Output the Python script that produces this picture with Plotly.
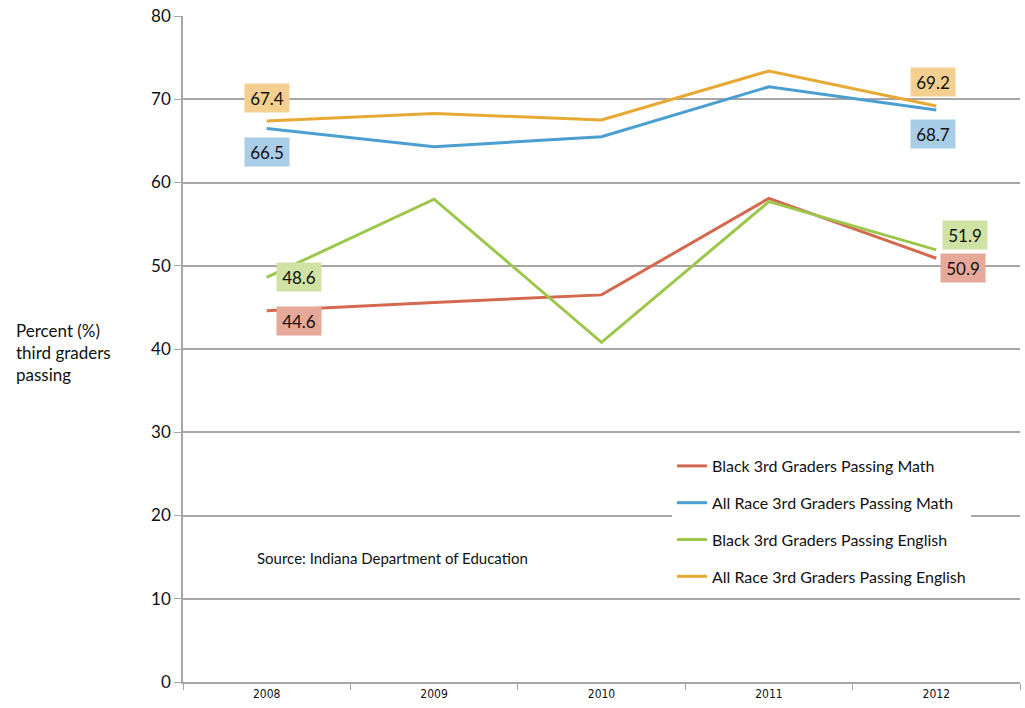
import plotly.graph_objects as go

years = ["2008", "2009", "2010", "2011", "2012"]
black_math = [44.6, 45.6, 46.5, 58.1, 50.9]
all_math = [66.5, 64.3, 65.5, 71.5, 68.7]
black_eng = [48.6, 58.0, 40.8, 57.7, 51.9]
all_eng = [67.4, 68.3, 67.5, 73.4, 69.2]
y_ticks = [0, 10, 20, 30, 40, 50, 60, 70, 80]

series = [
    ("Black 3rd Graders Passing Math", black_math, "#D4694F", "#E6A898"),
    ("All Race 3rd Graders Passing Math", all_math, "#4A9FD0", "#A9CDE6"),
    ("Black 3rd Graders Passing English", black_eng, "#9DC74C", "#CFE2A3"),
    ("All Race 3rd Graders Passing English", all_eng, "#E8A934", "#F4CF90"),
]

W, H = 1025, 708
OFF = 0  # page body margin removed via post_script
ml, mt = 183 - OFF, 16 - OFF
mr = W - (1020 - OFF)
mb = H - (682 - OFF)
PW = W - ml - mr
PH = H - mt - mb


def px(xpage):
    return (xpage - OFF - ml) / PW


def py(ypage):
    return (H - mb - (ypage - OFF)) / PH


fig = go.Figure()
for i, (name, vals, col, _) in enumerate(series):
    fig.add_trace(go.Scatter(
        x=years, y=vals, name=name, mode="lines",
        line=dict(color=col, width=3), legendgroup=f"g{i}",
    ))

# end-point labels: (series index, point index, xshift, yshift)
label_specs = [
    (3, 0, 0, 23), (1, 0, 0, -24), (2, 0, 32, 0), (0, 0, 32, -10),
    (3, 4, -3, 24), (1, 4, -3, -24), (2, 4, 29, 15), (0, 4, 27, -10),
]
for si, pi, xs, ys in label_specs:
    name, vals, col, bg = series[si]
    fig.add_annotation(
        x=pi, y=vals[pi], xref="x", yref="y",
        text=f"{vals[pi]:.1f}", showarrow=False,
        xshift=xs, yshift=ys, bgcolor=bg, borderpad=0,
        width=44, height=28,
        font=dict(family="Lato, Open Sans, sans-serif", size=17, color="#111"),
    )

fig.add_annotation(
    xref="paper", yref="paper", x=px(14), y=py(318),
    xanchor="left", yanchor="top", align="left", showarrow=False,
    text="Percent (%)<br>third graders<br>passing",
    font=dict(family="Lato, Open Sans, sans-serif", size=17, color="#111"),
)
fig.add_annotation(
    xref="paper", yref="paper", x=px(255), y=py(558),
    xanchor="left", yanchor="middle", showarrow=False,
    text="Source: Indiana Department of Education",
    font=dict(family="Lato, Open Sans, sans-serif", size=15, color="#111"),
)

fig.update_layout(
    width=W, height=H,
    margin=dict(l=ml, r=mr, t=mt, b=mb),
    paper_bgcolor="white", plot_bgcolor="white",
    showlegend=True,
    legend=dict(
        x=px(672), y=py(449),
        xanchor="left", yanchor="top",
        bgcolor="white", borderwidth=0,
        tracegroupgap=13,
        font=dict(family="Lato, Open Sans, sans-serif", size=16, color="#111"),
    ),
    xaxis=dict(
        type="category", range=[-0.5, 4.5], automargin=False,
        showgrid=False, showline=True, linecolor="#A6A6A6", linewidth=1.5,
        ticks="outside", tickson="boundaries", ticklen=6, tickcolor="#A6A6A6",
        tickfont=dict(family="Liberation Sans Narrow, DejaVu Sans Condensed, sans-serif", size=12, color="#111"),
    ),
    yaxis=dict(
        range=[0, 80], tickvals=y_ticks, automargin=False,
        showgrid=True, gridcolor="#A6A6A6", gridwidth=1.5,
        showline=True, linecolor="#A6A6A6", linewidth=1.5,
        ticks="outside", ticklen=7, tickcolor="#A6A6A6",
        ticklabeloverflow="allow",
        tickfont=dict(family="Lato, Open Sans, sans-serif", size=17, color="#111"),
        zeroline=False,
    ),
)

fig.write_html(
    "out.html",
    config={"displayModeBar": False},
    post_script="document.body.style.margin='0';",
)
